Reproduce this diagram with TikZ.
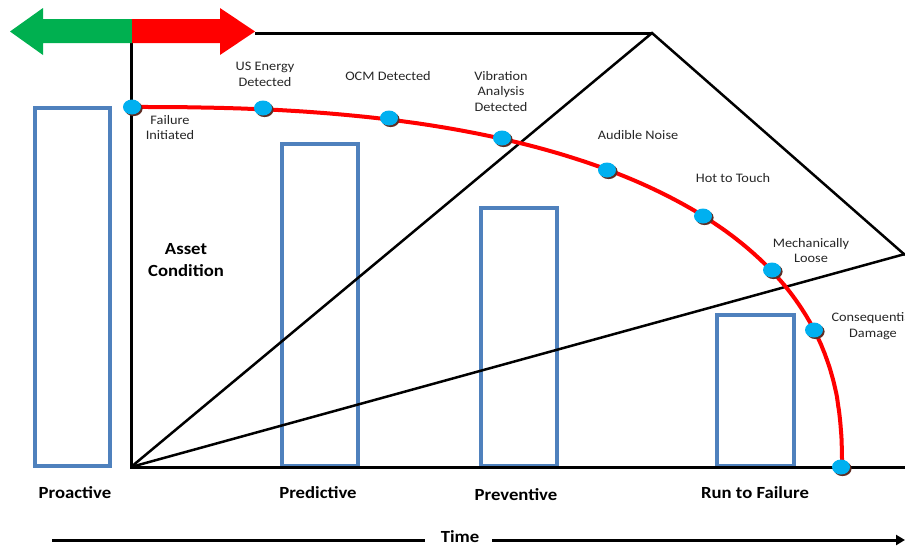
\documentclass[tikz,border=0pt]{standalone}
\usepackage{fontspec}
\setmainfont{Carlito}[FakeStretch=1.1]
\usepackage{tikz}
\usetikzlibrary{shapes.geometric,shadows,arrows.meta}

\definecolor{boxblue}{RGB}{79,129,189}
\definecolor{dotcyan}{RGB}{0,176,240}
\definecolor{arrgreen}{RGB}{0,176,80}
\definecolor{dotshadow}{RGB}{95,45,35}

\tikzset{
  lbl/.style={align=center,inner sep=0pt,text=black!85,font=\fontsize{13}{15.5}\selectfont},
  cat/.style={align=center,inner sep=0pt,font=\fontsize{17}{21.5}\selectfont\bfseries},
  dot/.style={ellipse,fill=dotcyan,minimum width=18pt,minimum height=15pt,inner sep=0pt,
    drop shadow={shadow xshift=1.6pt,shadow yshift=-1.6pt,fill=dotshadow,opacity=1}},
  boxrect/.style={draw=boxblue,line width=3.5pt},
  axis/.style={line width=3pt},
  slope/.style={line width=2.5pt}
}

\begin{document}
\begin{tikzpicture}[x=1pt,y=-1pt]
\useasboundingbox (0,0) rectangle (905,546);
\clip (0,0) rectangle (905,546);

% strategy boxes
\foreach \a/\b/\t in {35/110/108, 282/358/144, 481/557/208, 717/794/315}
  \draw[boxrect] (\a,\t) rectangle (\b,466);

% frame
\coordinate (O) at (131,467);
\coordinate (P) at (652,33);
\coordinate (R) at (905,255);
\coordinate (E) at (905,467);
\draw[slope] (O) -- (P) -- (R);
\draw[slope] (O) -- (905,254);
\draw[axis] (255,33) -- (P);
\draw[axis] (131,43) -- (O) -- (E);

% proactive / reactive arrows
\fill[arrgreen] (132,19) -- (43,19) -- (43,8) -- (10,31.5) -- (43,55) -- (43,43) -- (132,43) -- cycle;
\fill[red] (132,19) -- (220,19) -- (220,8) -- (255,31.5) -- (220,55) -- (220,43) -- (132,43) -- cycle;

% P-F curve
\draw[red,line width=4pt] plot[domain=0.02:89.98,samples=180,variable=\t]
  ({131+711*abs(cos(\t))^0.816},{467-360*abs(sin(\t))^0.816});

\foreach \n/\x/\y in {1/132/107, 2/263/108, 3/389/118, 4/502/138, 5/607/170,
                      6/703/216, 7/772/270, 8/814/330, 9/841/467}
  \node[dot] (d\n) at (\x,\y) {};

\node[lbl] (l1) at (170,127.5) {Failure\\Initiated};
\node[lbl] (l2) at (265,74.5) {US Energy\\Detected};
\node[lbl] (l3) at (388,76) {OCM Detected};
\node[lbl] (l4) at (501,91.5) {Vibration\\Analysis\\Detected};
\node[lbl] (l5) at (638,135) {Audible Noise};
\node[lbl] (l6) at (733,178) {Hot to Touch};
\node[lbl] (l7) at (811,250.5) {Mechanically\\Loose};
\node[lbl] (l8) at (873,326) {Consequential\\Damage};

\node[cat] (asset) at (186,260) {Asset\\Condition};

\node[cat] (pro) at (75,493) {Proactive};
\node[cat] (pred) at (318,493) {Predictive};
\node[cat] (prev) at (516,495) {Preventive};
\node[cat] (rtf) at (755,493) {Run to Failure};

% time axis
\node[cat] (time) at (460,537) {Time};
\coordinate (tl) at (52,540);
\coordinate (tr) at (905,540);
\draw[axis] (tl) -- ([xshift=-16pt]time.west |- tl);
\draw[axis,-{Triangle[length=9pt,width=10pt]}] ([xshift=13pt]time.east |- tr) -- (tr);
\end{tikzpicture}
\end{document}
